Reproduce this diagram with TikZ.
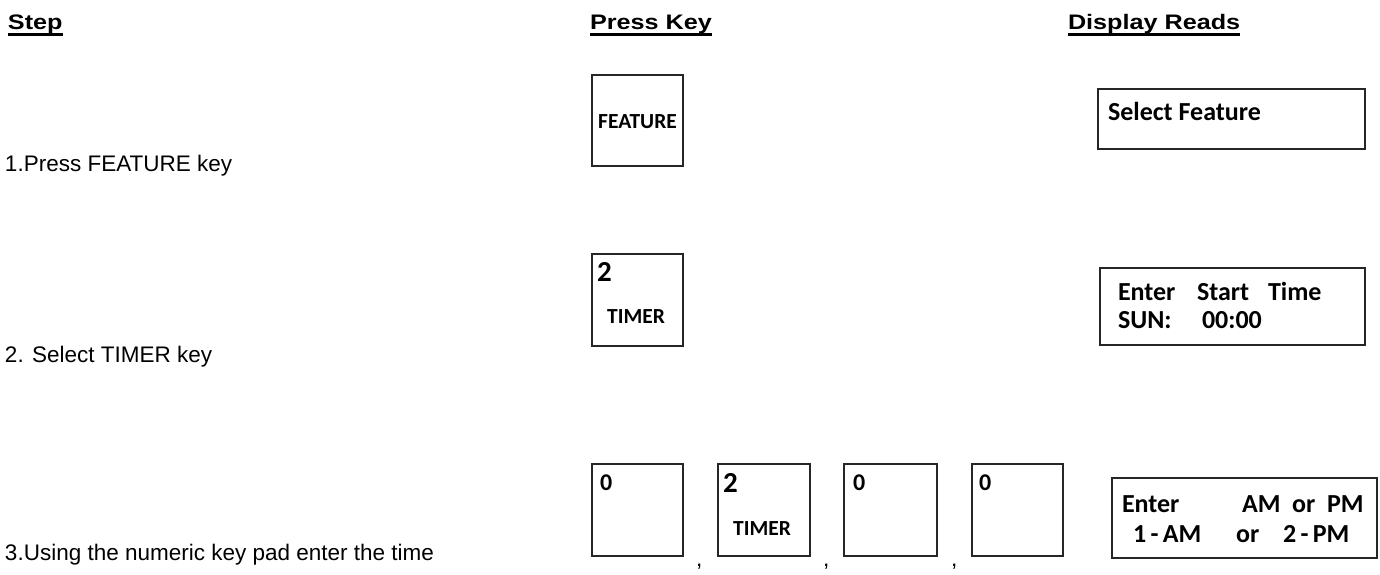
\documentclass[tikz,border=0pt]{standalone}
\usepackage{graphicx}
\usepackage{fontspec}
\setmainfont{Liberation Sans}
\newfontfamily\calfont{Carlito}
\begin{document}
\begin{tikzpicture}[x=1pt,y=-1pt,
  txt/.style={inner sep=0pt,outer sep=0pt,anchor=base west},
  hdr/.style={txt,font=\fontsize{21}{24}\selectfont\bfseries},
  steptxt/.style={txt,font=\fontsize{22.5}{26}\selectfont},
  keybox/.style={draw=black!85,line width=1.6pt},
  keylab/.style={inner sep=0pt,anchor=base,font=\calfont\fontsize{21.5}{24}\selectfont\bfseries},
  bignum/.style={txt,font=\calfont\fontsize{29}{32}\selectfont\bfseries},
  zero/.style={txt,font=\calfont\fontsize{24}{28}\selectfont\bfseries},
  disp/.style={txt,font=\calfont\fontsize{26}{28}\selectfont\bfseries},
  uline/.style={line width=2.2pt}]
\useasboundingbox (0,0) rectangle (1380,574);
% headers
\node[hdr] (h1) at (8,29) {\scalebox{1.2}[1]{Step}};
\node[hdr] (h2) at (590,29) {\scalebox{1.2}[1]{Press Key}};
\node[hdr] (h3) at (1068,29) {\scalebox{1.2}[1]{Display Reads}};
\foreach \h in {h1,h2,h3}{\draw[uline] ([yshift=-5.5pt]\h.base west) -- ([yshift=-5.5pt]\h.base east);}
% step texts
\node[steptxt] (s1) at (5,171) {1.Press FEATURE key};
\node[steptxt] (s2) at (5,362) {2. Select TIMER key};
\node[steptxt] (s3) at (5,560) {3.Using the numeric key pad enter the time};
% key 1
\draw[keybox] (592,75) rectangle (683,166);
\node[keylab] (kf) at (637.5,128) {FEATURE};
% key 2
\draw[keybox] (592,254) rectangle (683,346);
\node[bignum] (k2n) at (597,281) {2};
\node[keylab] (k2t) at (636,323) {TIMER};
% row 3 keys
\draw[keybox] (592,464) rectangle (683,556);
\node[zero] (r1) at (600,490) {0};
\draw[keybox] (718,464) rectangle (810,556);
\node[bignum] (r2n) at (723,492) {2};
\node[keylab] (r2t) at (762,535) {TIMER};
\draw[keybox] (844,464) rectangle (937,556);
\node[zero] (r3) at (853,490) {0};
\draw[keybox] (972,464) rectangle (1063,556);
\node[zero] (r4) at (979,490) {0};
\node[steptxt] (c1) at (696,566) {,};
\node[steptxt] (c2) at (823,566) {,};
\node[steptxt] (c3) at (951,566) {,};
% displays
\draw[keybox] (1098,89) rectangle (1365,149);
\node[disp] (d1) at (1108,120) {Select Feature};
\draw[keybox] (1100,268) rectangle (1365,345);
\node[disp] (d2a) at (1118,300) {Enter};
\node[disp] (d2b) at (1197,300) {Start};
\node[disp] (d2c) at (1268,300) {Time};
\node[disp] (d2d) at (1118,328) {SUN:};
\node[disp] (d2e) at (1202,328) {00:00};
\draw[keybox] (1112,478) rectangle (1377,558);
\node[disp] (d3a) at (1122,512) {Enter};
\node[disp] (d3b) at (1242,512) {AM\hspace{0.45em}or\hspace{0.45em}PM};
\node[disp] (d3c) at (1133,542) {1\,-\,AM};
\node[disp] (d3d) at (1236,542) {or};
\node[disp] (d3e) at (1283,542) {2\,-\,PM};
\end{tikzpicture}
\end{document}
